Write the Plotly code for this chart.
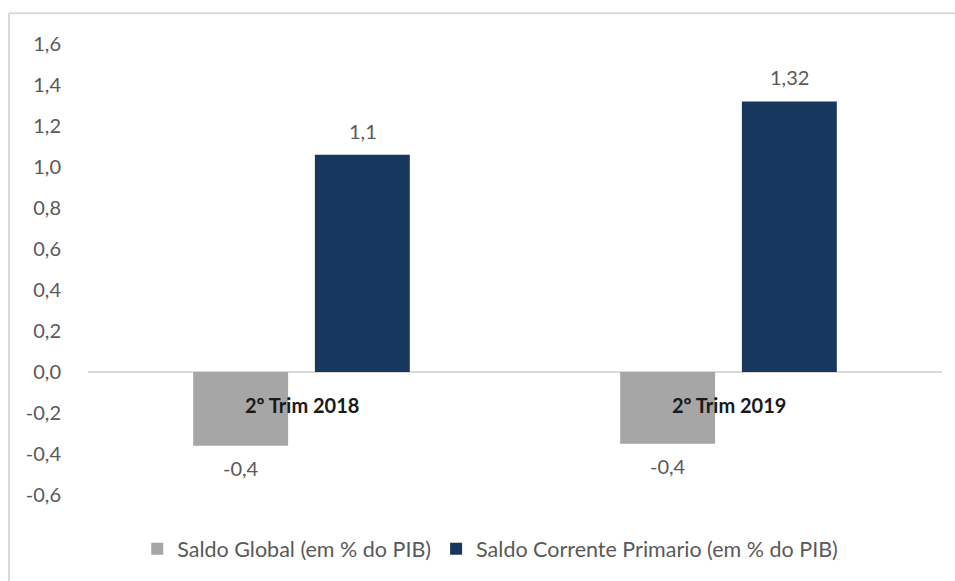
import plotly.graph_objects as go

categories = ["2º Trim 2018", "2º Trim 2019"]
saldo_global = [-0.36, -0.35]
saldo_global_labels = ["-0,4", "-0,4"]
saldo_corrente = [1.06, 1.32]
saldo_corrente_labels = ["1,1", "1,32"]
y_ticks = [-0.6, -0.4, -0.2, 0.0, 0.2, 0.4, 0.6, 0.8, 1.0, 1.2, 1.4, 1.6]
y_ticktext = [("%.1f" % v).replace(".", ",") for v in y_ticks]

font_family = "Lato, 'Open Sans', sans-serif"
label_color = "#595959"

fig = go.Figure()
fig.add_trace(go.Bar(
  x=categories, y=saldo_global,
  name="Saldo Global (em % do PIB)",
  marker=dict(color="#a6a6a6", line=dict(width=0)),
))
fig.add_trace(go.Bar(
  x=categories, y=saldo_corrente,
  name="Saldo Corrente Primario (em % do PIB)",
  marker=dict(color="#17375e", line=dict(width=0)),
))

annotations = []
# value labels above / below each bar
for vals, labels, xs in [(saldo_global, saldo_global_labels, -61),
                         (saldo_corrente, saldo_corrente_labels, 61)]:
  for c, v, t in zip(categories, vals, labels):
    annotations.append(dict(
      x=c, y=v, xref="x", yref="y", text=t, showarrow=False,
      xshift=xs, yshift=24 if v > 0 else -22, yanchor="middle",
      font=dict(color=label_color, size=20, family=font_family)))

# category names sit just under the zero line, inside the plot
for c in categories:
  annotations.append(dict(
    x=c, y=0, xref="x", yref="y", text="<b>%s</b>" % c,
    showarrow=False, yanchor="middle", yshift=-33,
    font=dict(color="#1a1a1a", size=20, family=font_family)))

# partial frame (top and left edges of the chart box)
shapes = [
  dict(type="line", xref="paper", yref="paper", x0=-0.0925, x1=1.05, y0=1.0684, y1=1.0684,
       line=dict(color="#d9d9d9", width=2)),
  dict(type="line", xref="paper", yref="paper", x0=-0.0925, x1=-0.0925, y0=1.0684, y1=-0.25,
       line=dict(color="#d9d9d9", width=2)),
]

fig.update_layout(
  width=955, height=581,
  margin=dict(l=88, r=13, t=44, b=84),
  paper_bgcolor="white", plot_bgcolor="white",
  barmode="group", bargap=0.43, bargroupgap=0.22,
  font=dict(family=font_family, color=label_color, size=20),
  showlegend=True,
  legend=dict(orientation="h", x=0.471, xanchor="center", y=-0.119, yanchor="middle",
              font=dict(size=21.5, color=label_color), itemwidth=30, itemclick=False),
  annotations=annotations,
  shapes=shapes,
  xaxis=dict(showticklabels=False, showgrid=False, showline=False, zeroline=False,
             range=[-0.5, 1.5]),
  yaxis=dict(range=[-0.6, 1.6], tickvals=y_ticks, ticktext=y_ticktext,
             showgrid=False, showline=False, zeroline=True,
             zerolinecolor="#d9d9d9", zerolinewidth=2,
             ticklabelstandoff=26, tickfont=dict(size=20, color=label_color)),
)

fig.write_html("out.html", config={"displayModeBar": False},
               post_script="document.body.style.margin='0';")
